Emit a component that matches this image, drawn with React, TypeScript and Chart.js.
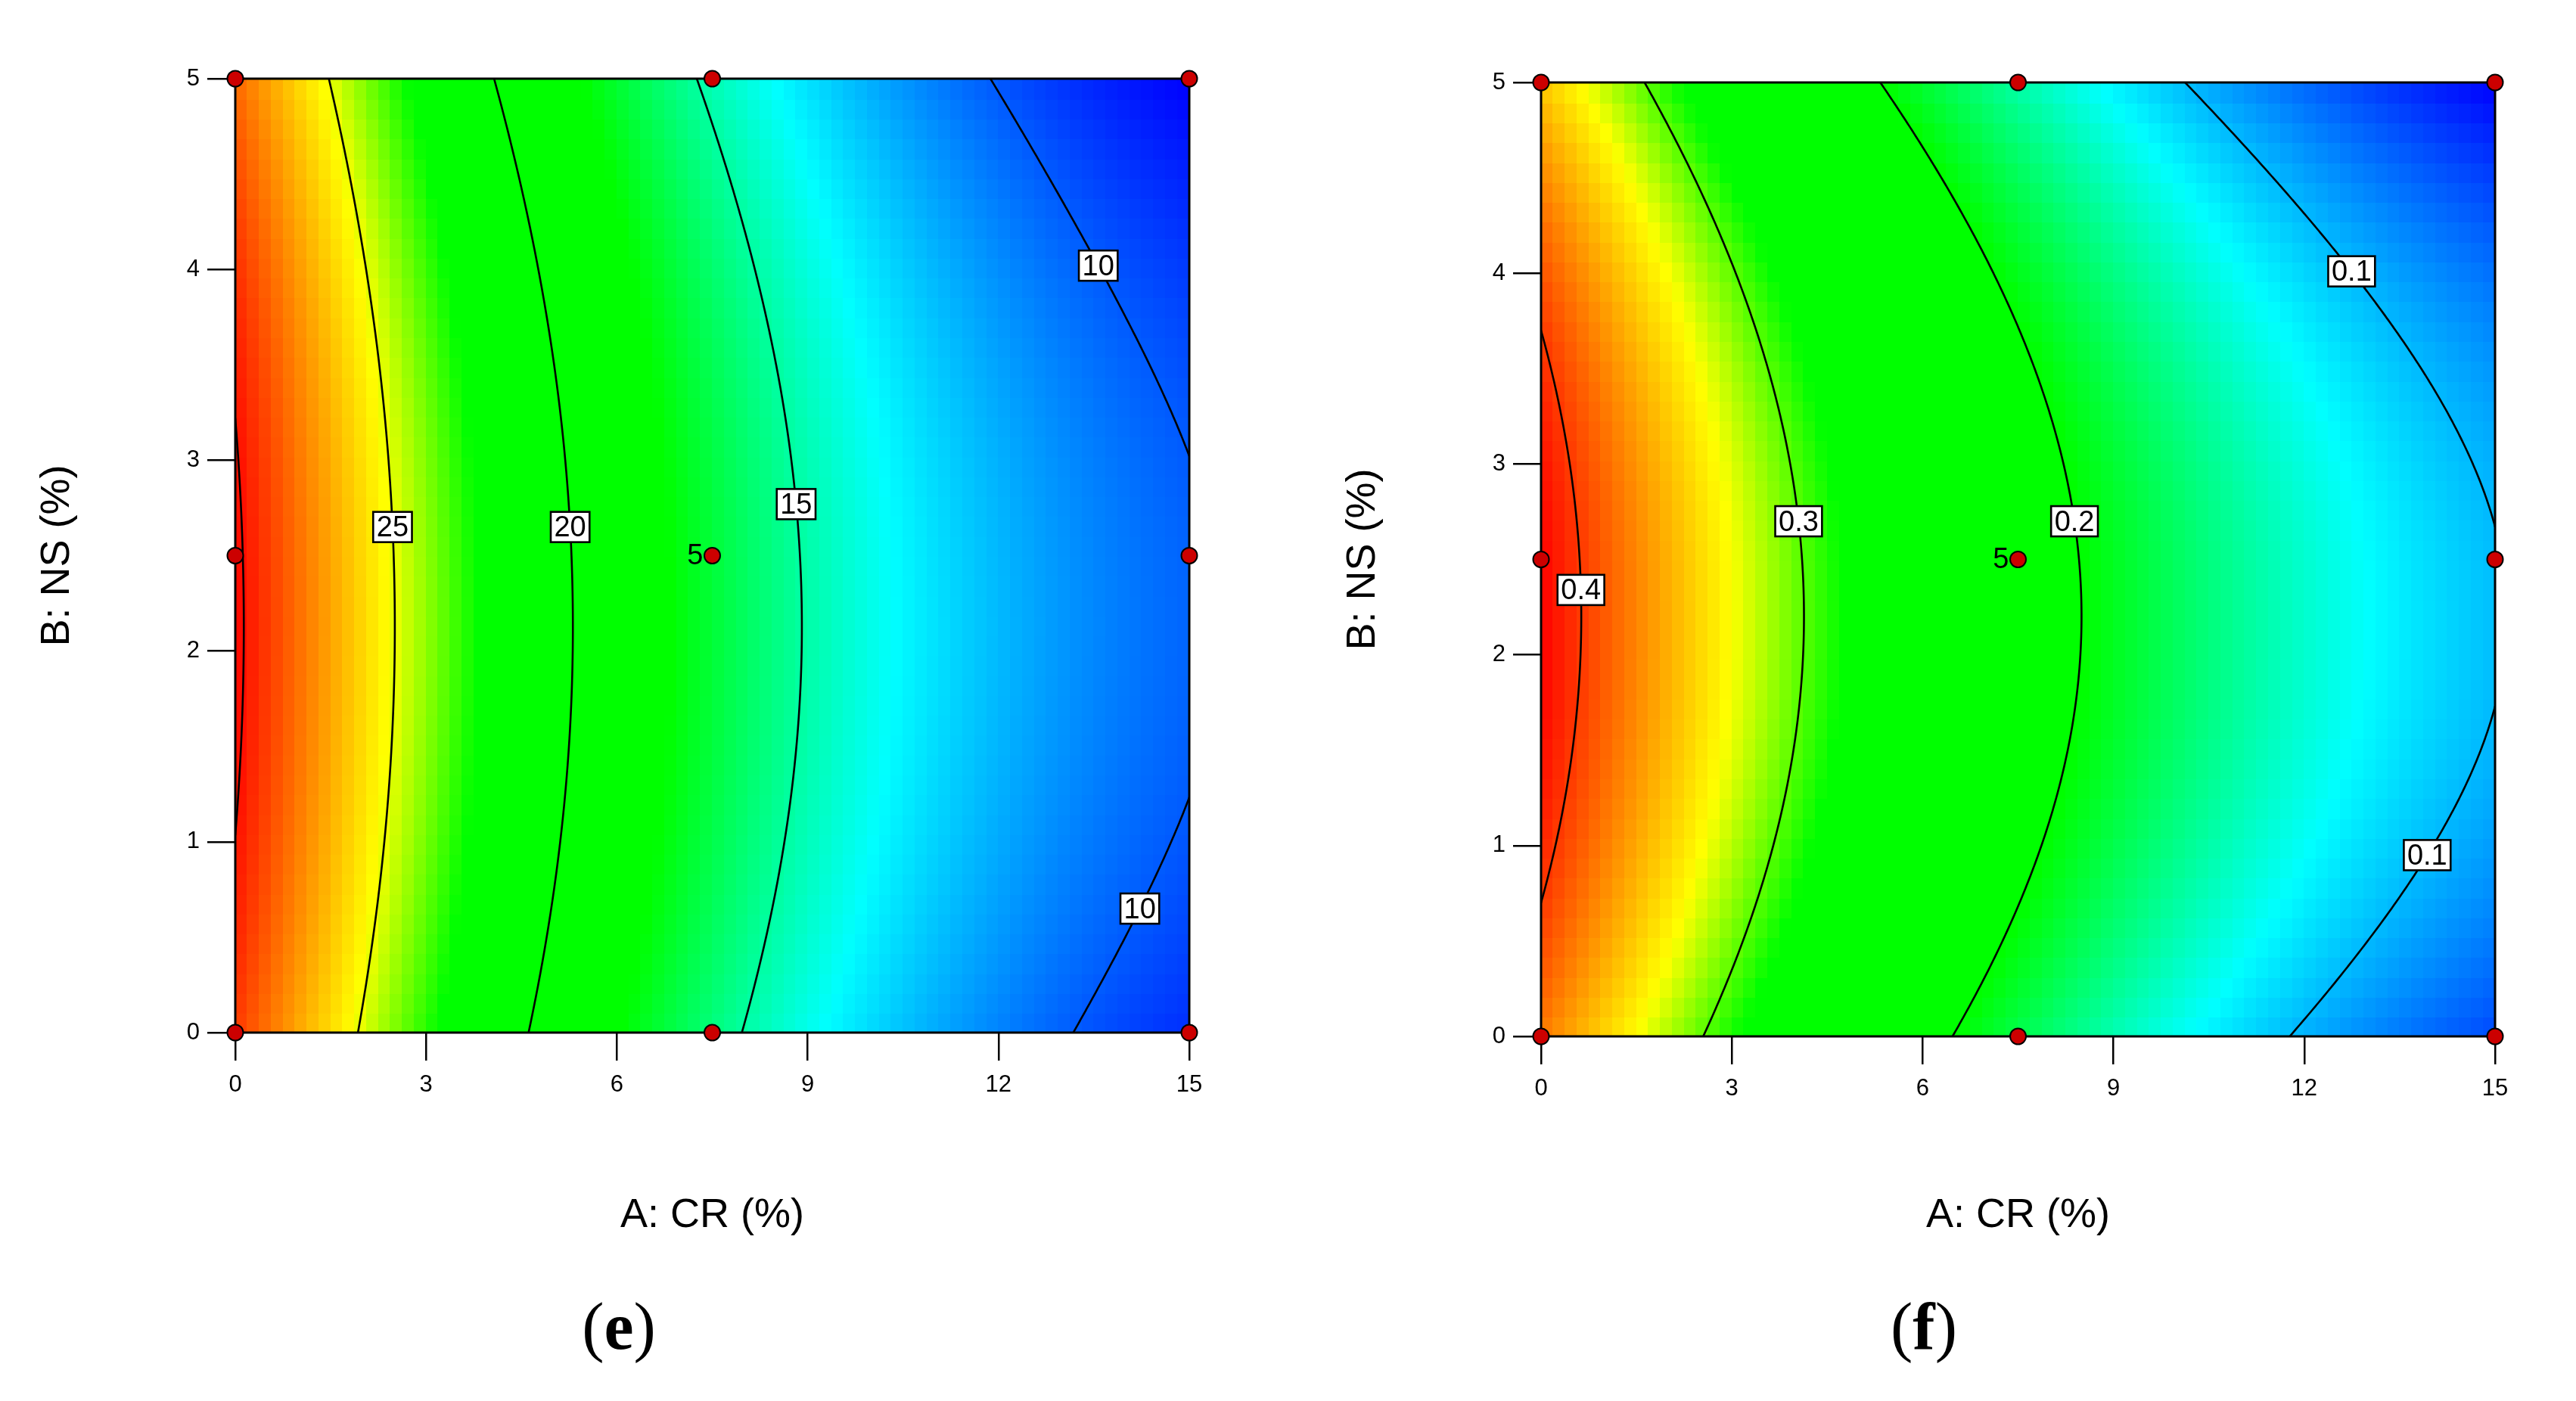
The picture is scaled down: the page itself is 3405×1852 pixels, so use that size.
import React, { useEffect, useRef } from "react";
import { Chart, registerables } from "chart.js";

Chart.register(...registerables);

const FONT = "'Liberation Sans', Arial, Helvetica, sans-serif";
const SERIF = "'Liberation Serif', 'Times New Roman', serif";

// ---------- data ----------
// grid coordinates of the response surface
const crValues = [0, 1.5, 3, 4.5, 6, 7.5, 9, 10.5, 12, 13.5, 15];
const nsValues = [0, 1, 2, 3, 4, 5];

// panel (e): response, one row per NS value
const eRowNS0 = [29.15, 25.88, 22.9, 20.19, 17.76, 15.61, 13.74, 12.15, 10.84, 9.8, 9.05];
const eRowNS1 = [29.98, 26.71, 23.73, 21.02, 18.59, 16.44, 14.57, 12.98, 11.67, 10.63, 9.88];
const eRowNS2 = [30.3, 27.03, 24.05, 21.34, 18.91, 16.76, 14.89, 13.3, 11.99, 10.95, 10.2];
const eRowNS3 = [30.11, 26.84, 23.86, 21.15, 18.72, 16.57, 14.7, 13.11, 11.8, 10.76, 10.01];
const eRowNS4 = [29.41, 26.14, 23.16, 20.45, 18.02, 15.87, 14.0, 12.41, 11.1, 10.06, 9.31];
const eRowNS5 = [28.21, 24.94, 21.96, 19.25, 16.82, 14.67, 12.8, 11.21, 9.9, 8.86, 8.11];

// panel (f)
const fRowNS0 = [0.3769, 0.3305, 0.2874, 0.2475, 0.2108, 0.1774, 0.1472, 0.1203, 0.0966, 0.0761, 0.0589];
const fRowNS1 = [0.4072, 0.3608, 0.3177, 0.2778, 0.2411, 0.2077, 0.1775, 0.1506, 0.1269, 0.1064, 0.0892];
const fRowNS2 = [0.4196, 0.3732, 0.3301, 0.2902, 0.2535, 0.2201, 0.1899, 0.163, 0.1393, 0.1188, 0.1016];
const fRowNS3 = [0.4143, 0.3679, 0.3248, 0.2849, 0.2482, 0.2148, 0.1846, 0.1577, 0.134, 0.1135, 0.0963];
const fRowNS4 = [0.3912, 0.3448, 0.3017, 0.2618, 0.2251, 0.1917, 0.1615, 0.1346, 0.1109, 0.0904, 0.0732];
const fRowNS5 = [0.3502, 0.3038, 0.2607, 0.2208, 0.1841, 0.1507, 0.1205, 0.0936, 0.0699, 0.0494, 0.0322];

// contour levels
const eLevels = [10, 15, 20, 25, 30];
const fLevels = [0.1, 0.2, 0.3, 0.4];

// contour labels: level, NS position, approximate CR position
const eLabelLevels = [25, 20, 15, 10, 10];
const eLabelNS = [2.65, 2.65, 2.77, 4.02, 0.65];
const eLabelCR = [2.5, 5.3, 8.9, 13.4, 14.2];

const fLabelLevels = [0.4, 0.3, 0.2, 0.1, 0.1];
const fLabelNS = [2.34, 2.7, 2.7, 4.01, 0.95];
const fLabelCR = [0.6, 4.0, 8.3, 13.0, 13.7];

// design points
const designCR = [0, 0, 0, 7.5, 7.5, 7.5, 15, 15, 15];
const designNS = [0, 2.5, 5, 0, 2.5, 5, 0, 2.5, 5];
const centerReplicates = 5;

// ticks
const crTicks = [0, 3, 6, 9, 12, 15];
const nsTicks = [0, 1, 2, 3, 4, 5];

// colour map (fraction of range -> colour)
const cmStops = [0, 0.24, 0.43, 0.65, 0.77, 1];
const cmR = [0, 0, 0, 0, 255, 255];
const cmG = [0, 255, 255, 255, 255, 0];
const cmB = [255, 255, 0, 0, 0, 0];

// ---------- helpers ----------
function catmull(p0: number, p1: number, p2: number, p3: number, s: number) {
  return 0.5 * (2 * p1 + (-p0 + p2) * s + (2 * p0 - 5 * p1 + 4 * p2 - p3) * s * s + (-p0 + 3 * p1 - 3 * p2 + p3) * s * s * s);
}
function pickExt(arr: number[], k: number) {
  const n = arr.length;
  if (k < 0) return 3 * arr[0] - 3 * arr[1] + arr[2];
  if (k > n - 1) return 3 * arr[n - 1] - 3 * arr[n - 2] + arr[n - 3];
  return arr[k];
}
function interp1(arr: number[], coords: number[], v: number) {
  const n = arr.length;
  const h = coords[1] - coords[0];
  const u = (v - coords[0]) / h;
  const i = Math.min(Math.max(Math.floor(u), 0), n - 2);
  const s = u - i;
  return catmull(pickExt(arr, i - 1), pickExt(arr, i), pickExt(arr, i + 1), pickExt(arr, i + 2), s);
}
function surface(rows: number[][], a: number, b: number) {
  const col = rows.map((r) => interp1(r, crValues, a));
  return interp1(col, nsValues, b);
}
function colorFor(t: number) {
  t = Math.max(0, Math.min(1, t));
  let k = 0;
  while (k < cmStops.length - 2 && t > cmStops[k + 1]) k++;
  const f = (t - cmStops[k]) / (cmStops[k + 1] - cmStops[k]);
  const r = cmR[k] + f * (cmR[k + 1] - cmR[k]);
  const g = cmG[k] + f * (cmG[k + 1] - cmG[k]);
  const b = cmB[k] + f * (cmB[k + 1] - cmB[k]);
  return `rgb(${Math.round(r)},${Math.round(g)},${Math.round(b)})`;
}

type PanelSpec = {
  rows: number[][];
  levels: number[];
  labelLevels: number[];
  labelNS: number[];
  labelCR: number[];
  canvasLeft: number;
  canvasW: number;
  canvasH: number;
  area: { left: number; top: number; right: number; bottom: number };
  yTitleCenter: number;
  xTitleCenterY: number;
};

const panelE: PanelSpec = {
  rows: [eRowNS0, eRowNS1, eRowNS2, eRowNS3, eRowNS4, eRowNS5],
  levels: eLevels,
  labelLevels: eLabelLevels,
  labelNS: eLabelNS,
  labelCR: eLabelCR,
  canvasLeft: 0,
  canvasW: 1720,
  canvasH: 1700,
  area: { left: 311, top: 104, right: 1572, bottom: 1365 },
  yTitleCenter: 76,
  xTitleCenterY: 1607,
};

const panelF: PanelSpec = {
  rows: [fRowNS0, fRowNS1, fRowNS2, fRowNS3, fRowNS4, fRowNS5],
  levels: fLevels,
  labelLevels: fLabelLevels,
  labelNS: fLabelNS,
  labelCR: fLabelCR,
  canvasLeft: 1720,
  canvasW: 1685,
  canvasH: 1700,
  area: { left: 317, top: 109, right: 1578, bottom: 1370 },
  yTitleCenter: 82,
  xTitleCenterY: 1607,
};

function makePlugin(spec: PanelSpec) {
  return {
    id: "responseSurface",
    beforeDatasetsDraw(chart: any) {
      const { ctx, chartArea: ca } = chart;
      const xs = chart.scales.x;
      const ys = chart.scales.y;
      const all = spec.rows.flat();
      const zmin = Math.min(...all);
      const zmax = Math.max(...all);
      const aMin = crValues[0];
      const aMax = crValues[crValues.length - 1];
      const bMin = nsValues[0];
      const bMax = nsValues[nsValues.length - 1];

      ctx.save();
      ctx.beginPath();
      ctx.rect(ca.left, ca.top, ca.right - ca.left, ca.bottom - ca.top);
      ctx.clip();

      // colour cells
      const NX = 80;
      const NY = 48;
      for (let i = 0; i < NX; i++) {
        const a0 = aMin + ((aMax - aMin) * i) / NX;
        const a1 = aMin + ((aMax - aMin) * (i + 1)) / NX;
        const px0 = Math.floor(xs.getPixelForValue(a0));
        const px1 = Math.ceil(xs.getPixelForValue(a1));
        for (let j = 0; j < NY; j++) {
          const b0 = bMin + ((bMax - bMin) * j) / NY;
          const b1 = bMin + ((bMax - bMin) * (j + 1)) / NY;
          const py0 = Math.ceil(ys.getPixelForValue(b0));
          const py1 = Math.floor(ys.getPixelForValue(b1));
          const z = surface(spec.rows, (a0 + a1) / 2, (b0 + b1) / 2);
          ctx.fillStyle = colorFor((z - zmin) / (zmax - zmin));
          ctx.fillRect(px0, py1, px1 - px0 + 1, py0 - py1 + 1);
        }
      }

      // fine field for contours
      const FA = 240;
      const FB = 160;
      const as: number[] = [];
      const bs: number[] = [];
      for (let i = 0; i <= FA; i++) as.push(aMin + ((aMax - aMin) * i) / FA);
      for (let j = 0; j <= FB; j++) bs.push(bMin + ((bMax - bMin) * j) / FB);
      const cols = as.map((a) => spec.rows.map((r) => interp1(r, crValues, a)));
      const field: number[][] = bs.map((b) => cols.map((c) => interp1(c, nsValues, b)));

      ctx.strokeStyle = "#000";
      ctx.lineWidth = 2.6;
      ctx.lineCap = "round";
      ctx.lineJoin = "round";
      for (const level of spec.levels) {
        ctx.beginPath();
        for (let j = 0; j < FB; j++) {
          for (let i = 0; i < FA; i++) {
            const v00 = field[j][i];
            const v10 = field[j][i + 1];
            const v01 = field[j + 1][i];
            const v11 = field[j + 1][i + 1];
            const pts: number[][] = [];
            const edge = (va: number, vb: number, xa: number, ya: number, xb: number, yb: number) => {
              if (va < level !== vb < level) {
                const t = (level - va) / (vb - va);
                pts.push([xa + t * (xb - xa), ya + t * (yb - ya)]);
              }
            };
            edge(v00, v10, as[i], bs[j], as[i + 1], bs[j]);
            edge(v10, v11, as[i + 1], bs[j], as[i + 1], bs[j + 1]);
            edge(v11, v01, as[i + 1], bs[j + 1], as[i], bs[j + 1]);
            edge(v01, v00, as[i], bs[j + 1], as[i], bs[j]);
            for (let k = 0; k + 1 < pts.length; k += 2) {
              ctx.moveTo(xs.getPixelForValue(pts[k][0]), ys.getPixelForValue(pts[k][1]));
              ctx.lineTo(xs.getPixelForValue(pts[k + 1][0]), ys.getPixelForValue(pts[k + 1][1]));
            }
          }
        }
        ctx.stroke();
      }
      ctx.restore();

      // frame
      ctx.save();
      ctx.strokeStyle = "#000";
      ctx.lineWidth = 3;
      ctx.strokeRect(ca.left, ca.top, ca.right - ca.left, ca.bottom - ca.top);

      // contour labels
      ctx.font = `38px ${FONT}`;
      ctx.textAlign = "center";
      ctx.textBaseline = "middle";
      spec.labelLevels.forEach((level, idx) => {
        const b = spec.labelNS[idx];
        const hint = spec.labelCR[idx];
        let best: number | null = null;
        const steps = 600;
        let prevA = aMin;
        let prevV = surface(spec.rows, prevA, b) - level;
        for (let k = 1; k <= steps; k++) {
          const a = aMin + ((aMax - aMin) * k) / steps;
          const v = surface(spec.rows, a, b) - level;
          if (prevV * v <= 0 && prevV !== v) {
            const ac = prevA + ((a - prevA) * prevV) / (prevV - v);
            if (best === null || Math.abs(ac - hint) < Math.abs(best - hint)) best = ac;
          }
          prevA = a;
          prevV = v;
        }
        const px = xs.getPixelForValue(best === null ? hint : best);
        const py = ys.getPixelForValue(b);
        const text = String(level);
        const w = ctx.measureText(text).width + 9;
        const h = 40;
        ctx.fillStyle = "#fff";
        ctx.fillRect(px - w / 2, py - h / 2, w, h);
        ctx.lineWidth = 2.6;
        ctx.strokeStyle = "#000";
        ctx.strokeRect(px - w / 2, py - h / 2, w, h);
        ctx.fillStyle = "#000";
        ctx.fillText(text, px, py + 2);
      });
      ctx.restore();
    },
    afterDatasetsDraw(chart: any) {
      const { ctx } = chart;
      const xs = chart.scales.x;
      const ys = chart.scales.y;
      const px = xs.getPixelForValue(designCR[4]);
      const py = ys.getPixelForValue(designNS[4]);
      ctx.save();
      ctx.font = `38px ${FONT}`;
      ctx.fillStyle = "#000";
      ctx.textAlign = "right";
      ctx.textBaseline = "middle";
      ctx.fillText(String(centerReplicates), px - 12, py + 1);
      ctx.restore();
    },
  };
}

function ContourChart({ spec }: { spec: PanelSpec }) {
  const ref = useRef<HTMLCanvasElement>(null);
  useEffect(() => {
    const canvas = ref.current;
    if (!canvas) return;
    const A = spec.area;
    const titleLH = 54 * 1.2;
    const chart = new Chart(canvas, {
      type: "scatter",
      data: {
        datasets: [
          {
            data: designCR.map((a, i) => ({ x: a, y: designNS[i] })),
            pointRadius: 10.5,
            pointHoverRadius: 10.5,
            pointBackgroundColor: "#CC0000",
            pointBorderColor: "#000",
            pointBorderWidth: 2,
            showLine: false,
            clip: false,
          } as any,
        ],
      },
      options: {
        animation: false,
        responsive: false,
        devicePixelRatio: 1,
        events: [],
        layout: {
          padding: { left: 0, top: A.top, right: spec.canvasW - A.right, bottom: 0 },
        },
        plugins: {
          legend: { display: false },
          tooltip: { enabled: false },
        },
        scales: {
          x: {
            type: "linear",
            min: crTicks[0],
            max: crTicks[crTicks.length - 1],
            afterBuildTicks: (s: any) => {
              s.ticks = crTicks.map((v) => ({ value: v }));
            },
            afterFit: (s: any) => {
              s.height = spec.canvasH - A.bottom;
            },
            grid: {
              display: true,
              drawOnChartArea: false,
              drawTicks: true,
              tickLength: 37,
              tickWidth: 2.5,
              lineWidth: 2.5,
              tickColor: "#000",
              color: "#000",
            },
            border: { display: false },
            ticks: {
              color: "#000",
              font: { family: FONT, size: 31 },
              padding: 14,
              maxRotation: 0,
              autoSkip: false,
            },
            title: {
              display: true,
              text: "A: CR (%)",
              color: "#000",
              font: { family: FONT, size: 54 },
              padding: { top: 0, bottom: spec.canvasH - spec.xTitleCenterY - titleLH / 2 },
            },
          },
          y: {
            type: "linear",
            min: nsTicks[0],
            max: nsTicks[nsTicks.length - 1],
            afterBuildTicks: (s: any) => {
              s.ticks = nsTicks.map((v) => ({ value: v }));
            },
            afterFit: (s: any) => {
              s.width = A.left;
            },
            grid: {
              display: true,
              drawOnChartArea: false,
              drawTicks: true,
              tickLength: 37,
              tickWidth: 2.5,
              lineWidth: 2.5,
              tickColor: "#000",
              color: "#000",
            },
            border: { display: false },
            ticks: {
              color: "#000",
              font: { family: FONT, size: 31 },
              padding: 10,
              autoSkip: false,
            },
            title: {
              display: true,
              text: "B: NS (%)",
              color: "#000",
              font: { family: FONT, size: 54 },
              padding: { top: spec.yTitleCenter - titleLH / 2, bottom: 0 },
            },
          },
        },
      } as any,
      plugins: [makePlugin(spec) as any],
    });
    return () => chart.destroy();
  }, [spec]);
  return (
    <canvas
      ref={ref}
      width={spec.canvasW}
      height={spec.canvasH}
      style={{ position: "absolute", left: spec.canvasLeft, top: 0, width: spec.canvasW, height: spec.canvasH }}
    />
  );
}

function PanelLetter({ letter, centerX }: { letter: string; centerX: number }) {
  return (
    <div
      style={{
        position: "absolute",
        left: centerX - 150,
        width: 300,
        top: 1710,
        fontFamily: SERIF,
        fontSize: 88,
        lineHeight: "88px",
        textAlign: "center",
        color: "#000",
      }}
    >
      (<b>{letter}</b>)
    </div>
  );
}

export default function App() {
  return (
    <div
      style={{
        position: "absolute",
        left: 0,
        top: 0,
        width: 3405,
        height: 1852,
        background: "#fff",
        overflow: "hidden",
      }}
    >
      <ContourChart spec={panelE} />
      <ContourChart spec={panelF} />
      <PanelLetter letter="e" centerX={818} />
      <PanelLetter letter="f" centerX={2543} />
    </div>
  );
}
